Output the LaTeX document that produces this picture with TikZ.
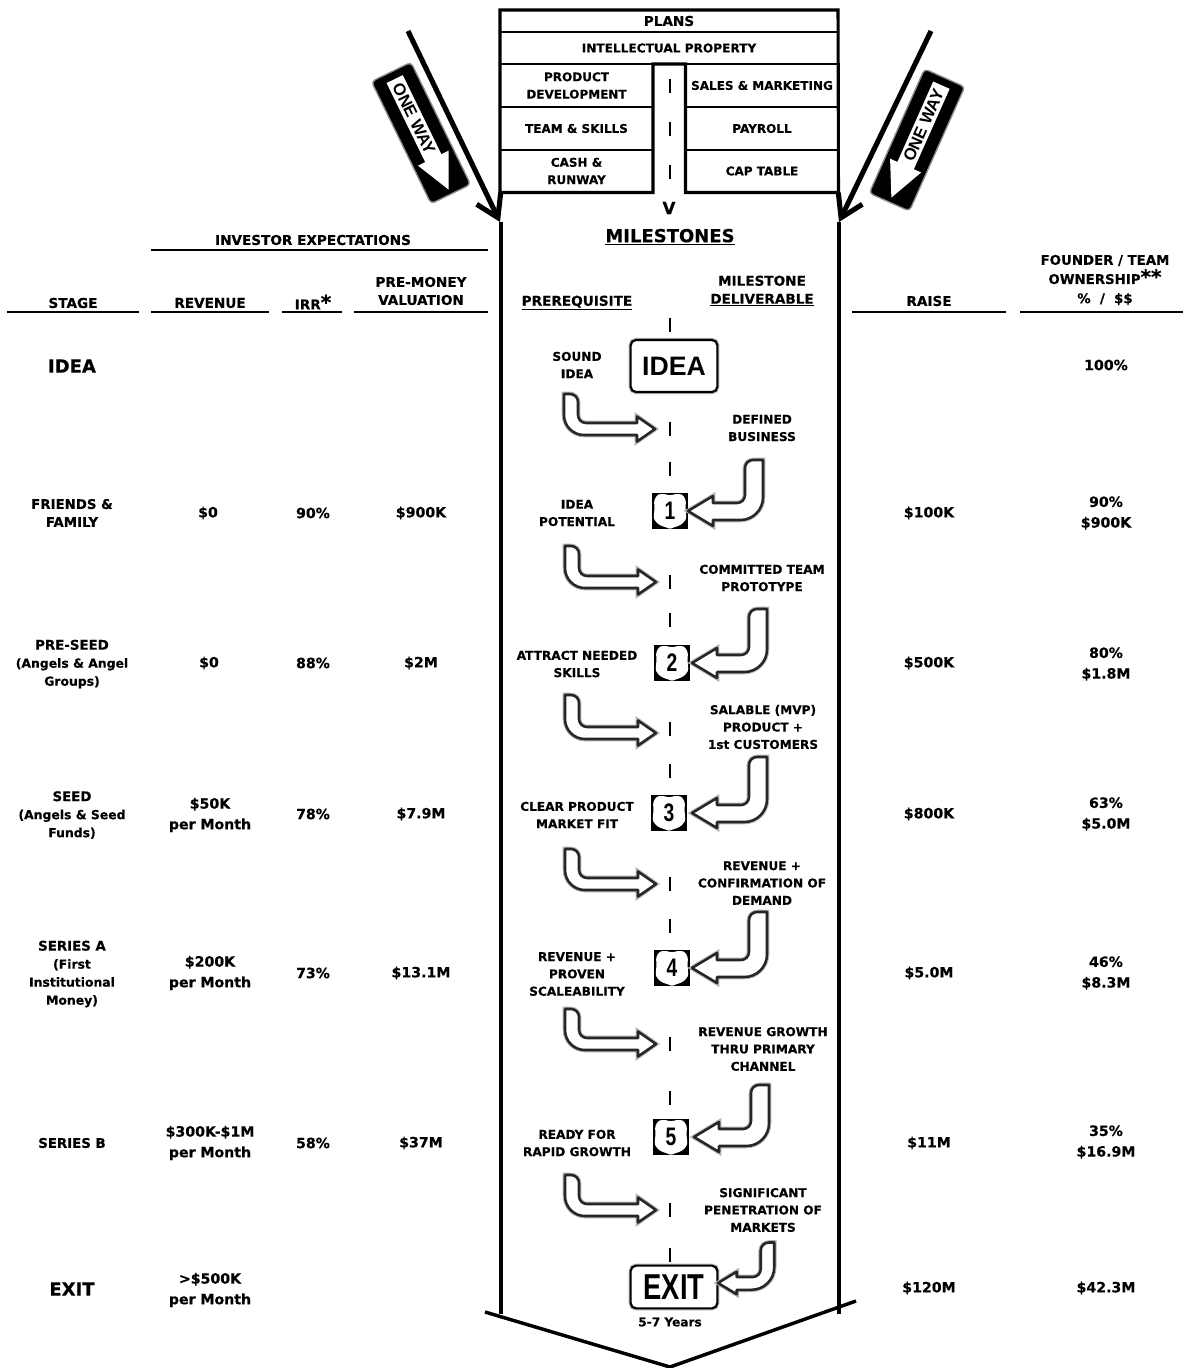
\documentclass[tikz,border=0pt]{standalone}
\usepackage{fontspec}
\setmainfont{DejaVu Sans}[BoldFeatures={FakeBold=0.4}]
\newfontfamily\signfont{Liberation Sans}
\newfontfamily\exitfont[FakeStretch=0.76]{Liberation Sans}
\usetikzlibrary{arrows.meta,calc,positioning}
\newcommand{\stagenote}[1]{{\fontsize{9.3}{13.5}\selectfont #1}}
\newcommand{\notemark}{{\fontsize{15}{13}\selectfont *}}
\tikzset{
    plan box/.style={
        draw,
        line width=1.5pt,
        outer sep=0pt,
        minimum width=114.75pt,
        minimum height=32.25pt,
        align=center,
        inner sep=0pt,
        font=\bfseries\fontsize{9}{13}\selectfont
    },
    plan wide/.style={
        plan box,
        minimum width=253.5pt
    },
    plan frame/.style={line width=2.3pt, line join=miter},
    rule line/.style={line width=1.2pt},
    way arrow/.style={line width=3.8pt, -{Straight Barb[length=16pt,width=20pt,line width=3.8pt]}},
    funnel line/.style={line width=3.2pt},
    chevron line/.style={line width=2.6pt},
    dash mark/.style={line width=1.4pt},
    col head/.style={align=center, inner sep=0pt, font=\bfseries\fontsize{10.2}{13.5}\selectfont},
    stage name/.style={align=center, inner sep=0pt, font=\bfseries\fontsize{10}{13.5}\selectfont},
    stage big/.style={inner sep=0pt, font=\bfseries\fontsize{13.5}{16}\selectfont},
    value text/.style={align=center, inner sep=0pt, font=\bfseries\fontsize{10.6}{15.5}\selectfont},
    step text/.style={align=center, inner sep=0pt, font=\bfseries\fontsize{9.1}{13}\selectfont},
    road sign/.style={
        draw,
        line width=1.6pt,
        rounded corners=4pt,
        fill=white,
        inner sep=0pt,
        minimum width=65pt,
        preaction={draw=black!30, line width=3.2pt}
    },
    hollow arrow/.style={draw=black!85, fill=white, line width=1.9pt, line join=round, preaction={draw=black!30, line width=3.4pt}},
    pics/step arrow/.style={code={
        \path[hollow arrow] (0,0) -- (-18,-12.5) -- (-18,-6) [rounded corners=6pt] -- (-77,-6) -- (-77,#1) [sharp corners] -- (-91,#1) [rounded corners=15pt] -- (-91,6) [sharp corners] -- (-18,6) -- (-18,12.5) -- cycle;
    }},
    pics/back arrow/.style={code={
        \path[hollow arrow] (0,0) -- (25,-15) -- (25,-8) [rounded corners=6pt] -- (57,-8) -- (57,#1) [sharp corners] -- (75,#1) [rounded corners=17pt] -- (75,9) [sharp corners] -- (25,9) -- (25,15) -- cycle;
    }},
    pics/route shield/.style={code={
        \fill[black] (-18,-18) rectangle (18,18);
        \fill[white, rounded corners=2pt] (0,-15.5) -- (-5,-17) -- (-12,-17) -- (-16,-11) -- (-15.5,-3) -- (-16.5,8) -- (-11,14) -- (-2,17) -- (0,18) -- (2,17) -- (11,14) -- (16.5,8) -- (15.5,-3) -- (16,-11) -- (12,-17) -- (5,-17) -- cycle;
        \node[font=\exitfont\bfseries\fontsize{19}{19}\selectfont, inner sep=0pt] at (0,0) {#1};
    }},
    pics/one way/.style={code={
        \draw[fill=black, draw=black!45, line width=1pt, rounded corners=3pt] (-68,-22) rectangle (68,22);
        \fill[white] (-60,-9) -- (28,-9) -- (28,-17) -- (63,0) -- (28,17) -- (28,9) -- (-60,9) -- cycle;
        \node[rotate=#1, transform shape, font=\signfont\bfseries\fontsize{12.5}{12.5}\selectfont, inner sep=0pt] at (-16,0) {ONE WAY};
    }}
}

\begin{document}
\begin{tikzpicture}[x=0.75pt,y=-0.75pt]
    \useasboundingbox (0,0) rectangle (1183,1368);

    \node[plan wide, minimum height=16.5pt, font=\bfseries\fontsize{10.2}{13}\selectfont] (plans) at (669,21) {PLANS};
    \node[plan wide, minimum height=24pt, font=\bfseries\fontsize{9.1}{13}\selectfont] (ip) at (669,48) {INTELLECTUAL PROPERTY};
    \node[plan box] (product) at (576.5,85.5) {PRODUCT\\DEVELOPMENT};
    \node[plan box] (team) at (576.5,128.5) {TEAM \& SKILLS};
    \node[plan box] (cash) at (576.5,171) {CASH \&\\RUNWAY};
    \node[plan box] (sales) at (762,85.5) {SALES \& MARKETING};
    \node[plan box] (payroll) at (762,128.5) {PAYROLL};
    \node[plan box] (cap) at (762,171) {CAP TABLE};
    \draw[plan frame] (plans.north west) -- (plans.north east) -- (cap.south east) -- (cap.south west) -- (sales.north west) -- (product.north east) -- (cash.south east) -- (cash.south west) -- cycle;

    \node[col head, font=\bfseries\fontsize{12.5}{13}\selectfont] (vmark) at (669,208) {V};
    \node[col head, font=\bfseries\fontsize{13.5}{15}\selectfont] (milestones) at (670,237) {\underline{MILESTONES}};

    \foreach \y in {86,129,172,325,429,469,582,620,729,771,884,926,1044,1098,1210,1255}
        \draw[dash mark] (670,\y-7) -- (670,\y+7);

    \pic at (421,133) [rotate=-64] {one way=0};
    \pic at (917,140) [rotate=-114] {one way=180};

    \coordinate (left start) at (408,31);
    \coordinate (left tip) at (500,222);
    \coordinate (right start) at (931,31);
    \coordinate (right tip) at (839,222);
    \draw[way arrow] (left start) -- (left tip);
    \draw[way arrow] (right start) -- (right tip);

    \coordinate (wall left top) at (501,222);
    \coordinate (wall left end) at (501,1314);
    \coordinate (wall right top) at (839,222);
    \coordinate (wall right end) at (839,1314);
    \coordinate (point left) at (485,1312);
    \coordinate (point low) at (670,1367);
    \coordinate (point right) at (856,1301);
    \draw[funnel line] (wall left top) -- (wall left end);
    \draw[funnel line] (wall right top) -- (wall right end);
    \draw[chevron line] (point left) -- (point low) -- (point right);

    \draw[rule line] (151,250) -- (488,250);
    \draw[rule line] (7,312) -- (139,312);
    \draw[rule line] (151,312) -- (269,312);
    \draw[rule line] (282,312) -- (342,312);
    \draw[rule line] (354,312) -- (488,312);
    \draw[rule line] (852,312) -- (1006,312);
    \draw[rule line] (1020,312) -- (1183,312);

    \node[col head] (expect) at (313,240) {INVESTOR EXPECTATIONS};
    \node[col head] (stage) at (73,303) {STAGE};
    \node[col head] (revenue) at (210,303) {REVENUE};
    \node[col head] (irr) at (313,302) {IRR\notemark};
    \node[col head] (premoney) at (421,291) {PRE-MONEY\\VALUATION};
    \node[col head] (prereq) at (577,303) {\underline{PREREQUISITE}};
    \node[col head] (deliver) at (762,291) {MILESTONE\\\underline{DELIVERABLE}};
    \node[col head] (raise) at (929,301) {RAISE};
    \node[col head, font=\bfseries\fontsize{10}{14.4}\selectfont] (founder) at (1105,280) {FOUNDER / TEAM\\OWNERSHIP\notemark\notemark\\\%\ \ /\ \ \$\$};

    \node[stage big] (idea name) at (72,366) {IDEA};
    \node[stage name] (friends) at (72,513) {FRIENDS \&\\FAMILY};
    \node[stage name] (preseed) at (72,664) {PRE-SEED\\\stagenote{(Angels \& Angel}\\\stagenote{Groups)}};
    \node[stage name] (seed) at (72,815) {SEED\\\stagenote{(Angels \& Seed}\\\stagenote{Funds)}};
    \node[stage name] (seriesa) at (72,974) {SERIES A\\\stagenote{(First}\\\stagenote{Institutional}\\\stagenote{Money)}};
    \node[stage name] (seriesb) at (72,1143) {SERIES B};
    \node[stage big] (exit name) at (72,1289) {EXIT};

    \node[value text] (rev one) at (208,513) {\$0};
    \node[value text] (rev two) at (209,663) {\$0};
    \node[value text] (rev three) at (210,815) {\$50K\\per Month};
    \node[value text] (rev four) at (210,973) {\$200K\\per Month};
    \node[value text] (rev five) at (210,1143) {\$300K-\$1M\\per Month};
    \node[value text] (rev six) at (210,1290) {>\$500K\\per Month};

    \node[value text] (irr one) at (313,513) {90\%};
    \node[value text] (irr two) at (313,663) {88\%};
    \node[value text] (irr three) at (313,814) {78\%};
    \node[value text] (irr four) at (313,973) {73\%};
    \node[value text] (irr five) at (313,1143) {58\%};

    \node[value text] (val one) at (421,513) {\$900K};
    \node[value text] (val two) at (421,663) {\$2M};
    \node[value text] (val three) at (421,814) {\$7.9M};
    \node[value text] (val four) at (421,973) {\$13.1M};
    \node[value text] (val five) at (421,1143) {\$37M};

    \node[value text] (raise one) at (929,513) {\$100K};
    \node[value text] (raise two) at (929,663) {\$500K};
    \node[value text] (raise three) at (929,814) {\$800K};
    \node[value text] (raise four) at (929,973) {\$5.0M};
    \node[value text] (raise five) at (929,1143) {\$11M};
    \node[value text] (raise six) at (929,1288) {\$120M};

    \node[value text] (own zero) at (1106,365) {100\%};
    \node[value text] (own one) at (1106,513) {90\%\\\$900K};
    \node[value text] (own two) at (1106,664) {80\%\\\$1.8M};
    \node[value text] (own three) at (1106,814) {63\%\\\$5.0M};
    \node[value text] (own four) at (1106,973) {46\%\\\$8.3M};
    \node[value text] (own five) at (1106,1142) {35\%\\\$16.9M};
    \node[value text] (own six) at (1106,1288) {\$42.3M};

    \node[step text] (sound) at (577,365) {SOUND\\IDEA};
    \node[step text] (defined) at (762,428) {DEFINED\\BUSINESS};
    \node[step text] (potential) at (577,513) {IDEA\\POTENTIAL};
    \node[step text] (committed) at (762,578) {COMMITTED TEAM\\PROTOTYPE};
    \node[step text] (attract) at (577,664) {ATTRACT NEEDED\\SKILLS};
    \node[step text] (salable) at (763,727) {SALABLE (MVP)\\PRODUCT +\\1st CUSTOMERS};
    \node[step text] (clear) at (577,815) {CLEAR PRODUCT\\MARKET FIT};
    \node[step text] (confirm) at (762,883) {REVENUE +\\CONFIRMATION OF\\DEMAND};
    \node[step text] (proven) at (577,974) {REVENUE +\\PROVEN\\SCALEABILITY};
    \node[step text] (growth) at (763,1049) {REVENUE GROWTH\\THRU PRIMARY\\CHANNEL};
    \node[step text] (ready) at (577,1143) {READY FOR\\RAPID GROWTH};
    \node[step text] (penetrate) at (763,1210) {SIGNIFICANT\\PENETRATION OF\\MARKETS};
    \node[step text] (years) at (670,1322) {5-7 Years};

    \node[road sign, minimum height=39pt, font=\signfont\bfseries\fontsize{20}{20}\selectfont] (idea sign) at (674,366) {IDEA};
    \node[road sign, minimum height=32pt, font=\exitfont\bfseries\fontsize{27}{27}\selectfont] (exit sign) at (674,1287) {EXIT};

    \pic at (670,511) {route shield=1};
    \pic at (672,663) {route shield=2};
    \pic at (669,813) {route shield=3};
    \pic at (672,968) {route shield=4};
    \pic at (671,1137) {route shield=5};

    \pic at (655,429) {step arrow=-35};
    \pic at (656,582) {step arrow=-36};
    \pic at (656,733) {step arrow=-38};
    \pic at (656,884) {step arrow=-35};
    \pic at (656,1044) {step arrow=-35};
    \pic at (656,1210) {step arrow=-35};

    \pic at (688,511) {back arrow=-51};
    \pic at (692,663) {back arrow=-54};
    \pic at (692,813) {back arrow=-56};
    \pic at (692,968) {back arrow=-56};
    \pic at (694,1137) {back arrow=-52};
    \pic at (718,1283) [scale=0.75] {back arrow=-54};
\end{tikzpicture}
\end{document}
